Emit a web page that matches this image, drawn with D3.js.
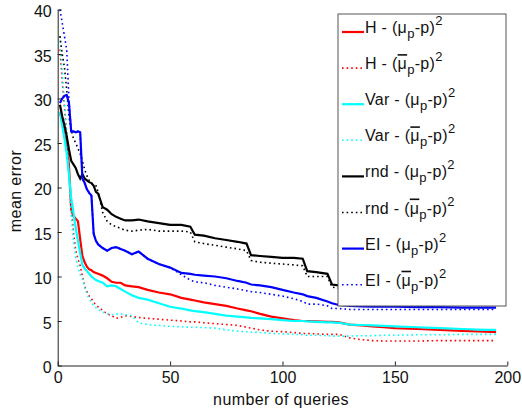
<!DOCTYPE html>
<html>
<head>
<meta charset="utf-8">
<script src="https://cdn.jsdelivr.net/npm/d3@7"></script>
<style>
  body { margin: 0; background: #fff; }
  text { font-family: "Liberation Sans", Arial, sans-serif; }
</style>
</head>
<body>
<svg id="chart" width="522" height="416"></svg>
<script>
// number of queries where the curves were read
var queries = [1,2,3,4,5,6,7,8,9,10,11,12,13,14,15,16,17,18,20,22,24,26,28,30,33,36,40,45,50,55,59,61,65,70,75,80,84,86,90,95,100,105,109,111,115,120,122,125,130,135,140,145,150,160,170,180,190,195];

var hMu   = [28.5,27.3,25.8,24.8,22.5,17.5,16.8,16.5,16.2,14.2,12.3,11.6,11.1,10.8,10.7,10.5,10.4,10.3,10.1,9.8,9.4,9.3,9.3,9.0,8.9,8.8,8.5,8.2,8.0,7.6,7.4,7.3,7.1,6.9,6.7,6.4,6.2,6.1,5.8,5.5,5.3,5.1,5.0,5.0,4.95,4.9,4.9,4.85,4.6,4.5,4.4,4.3,4.2,4.1,4.0,3.9,3.8,3.75];
var hBar  = [35.5,32,29,26,22,18,15,13,12,11.2,10,8.9,8.3,7.8,7.5,7.1,6.8,6.6,6.2,5.8,5.6,5.3,5.4,5.6,5.5,5.4,5.3,5.2,5.1,5.0,4.9,4.9,4.8,4.7,4.6,4.5,4.3,4.2,4.0,3.85,3.8,3.7,3.6,3.6,3.55,3.5,3.5,3.5,3.1,2.9,2.8,2.75,2.75,2.75,2.8,2.8,2.8,2.8];
var varMu = [28.5,27,25.5,23.8,21.5,18.8,17.2,15.5,14.0,12.6,11.3,10.9,10.6,10.3,10.0,9.8,9.6,9.5,9.3,8.9,9.0,8.9,8.6,8.3,7.9,7.6,7.4,7.0,6.6,6.4,6.2,6.1,6.0,5.8,5.6,5.5,5.4,5.35,5.3,5.2,5.1,5.0,5.0,4.95,4.9,4.85,4.85,4.8,4.6,4.55,4.5,4.45,4.4,4.3,4.2,4.1,4.0,4.0];
var varBar= [37,33,29.5,26,21,17,14,12.2,11,10.2,9.7,8.8,8.0,7.5,7.1,6.7,6.5,6.3,6.0,5.8,5.7,5.8,5.8,5.7,5.6,4.8,4.6,4.5,4.4,4.35,4.3,4.3,4.25,4.2,4.0,3.85,3.8,3.75,3.7,3.6,3.55,3.5,3.45,3.4,3.4,3.35,3.3,3.3,3.3,3.35,3.35,3.4,3.4,3.45,3.45,3.5,3.5,3.5];
var rndMu = [29.3,28,27,25.8,24.3,23,22.6,22.2,21.5,21,21.5,21,20.8,20.6,20.5,20.2,19.5,19.3,17.8,17.5,17,16.7,16.5,16.3,16.3,16.4,16.2,16,15.8,15.8,15.6,14.7,14.6,14.3,14.1,13.9,13.7,12.4,12.3,12.2,12.1,12.1,12.0,10.6,10.5,10.3,9.1,9.0,8.9,8.8,8.7,8.6,8.5,8.4,8.3,8.2,8.1,8.0];
var rndBar= [37,35,33.5,31,28,26.5,25.5,25,24.4,23.8,23,22,21.3,20.8,20.5,20.3,20.2,19.5,17.2,16.2,15.8,15.6,15.4,15.2,15.1,15.2,15.3,15.1,15.1,15.1,15.0,13.9,13.7,13.5,13.3,13.1,12.9,11.8,11.6,11.5,11.4,11.3,11.2,10.0,10.0,10.0,8.8,8.7,8.6,8.5,8.4,8.3,8.2,8.1,8.0,7.9,7.8,7.8];
var eiMu  = [29.5,30,30.3,30.4,29.5,26.3,26.3,26.2,26.3,26.2,21,20.5,19.8,19.4,19.1,14.8,14.0,13.6,13.2,12.9,13.2,13.3,13.1,12.9,12.5,12.8,12.0,11.4,11.0,10.4,10.3,10.2,10.1,10.0,9.8,9.5,9.3,9.1,9.0,8.8,8.5,8.2,8.0,7.8,7.6,7.2,7.0,6.8,6.7,6.65,6.6,6.6,6.6,6.55,6.55,6.5,6.5,6.5];
var eiBar = [40,38.5,37,35.5,30,26.3,26.3,26.2,26.3,26.2,21,20.5,19.8,19.4,19.1,14.8,14.0,13.6,13.2,12.9,13.2,13.3,13.1,12.9,12.5,12.8,12.0,11.4,11.0,10.2,9.6,9.4,9.3,9.0,8.8,8.6,8.4,8.3,8.2,8.0,7.8,7.5,7.2,6.9,6.9,6.7,6.4,6.4,6.3,6.3,6.3,6.3,6.3,6.3,6.3,6.3,6.3,6.3];

var xTicks = [0,50,100,150,200];
var yTicks = [0,5,10,15,20,25,30,35,40];

var labels = ["H - (", "H - (", "Var - (", "Var - (", "rnd - (", "rnd - (", "EI - (", "EI - ("];
var barMu = [false, true, false, true, false, true, false, true];
var seriesData = [hMu, hBar, varMu, varBar, rndMu, rndBar, eiMu, eiBar];
var colors = ["#ff0000", "#ff0000", "#00ffff", "#00ffff", "#000000", "#000000", "#0000ff", "#0000ff"];
var dotted = [false, true, false, true, false, true, false, true];

var svg = d3.select("#chart");

var x = d3.scaleLinear().domain([0, 200]).range([57.7, 507.3]);
var y = d3.scaleLinear().domain([0, 40]).range([365.5, 9.5]);

// curves, in legend order
var line = d3.line()
    .x(function(d){ return x(d[0]); })
    .y(function(d){ return y(d[1]); });

seriesData.forEach(function(vals, i){
  var pts = queries.map(function(q, j){ return [q, vals[j]]; });
  svg.append("path")
     .datum(pts)
     .attr("d", line)
     .style("fill", "none")
     .style("stroke", colors[i])
     .style("stroke-width", dotted[i] ? 1.6 : 2.2)
     .style("stroke-dasharray", dotted[i] ? "1.6,3" : null);
});

// axes, ticks pointing inward
var xAxis = svg.append("g")
    .attr("transform", "translate(0," + y(0) + ")")
    .call(d3.axisBottom(x).tickValues(xTicks).tickSizeInner(-4).tickSizeOuter(0).tickPadding(6));
var yAxis = svg.append("g")
    .attr("transform", "translate(" + x(0) + ",0)")
    .call(d3.axisLeft(y).tickValues(yTicks).tickSizeInner(-4).tickSizeOuter(0).tickPadding(6));

[xAxis, yAxis].forEach(function(g){
  g.selectAll("path, line").style("stroke", "#222").style("stroke-width", 1);
  g.selectAll("text").style("font-family", "Liberation Sans, Arial, sans-serif").style("font-size", "16px").style("fill", "#111");
});
yAxis.selectAll("text").attr("dy", "0.45em");

svg.append("text").attr("x", 281).attr("y", 405).attr("text-anchor", "middle")
   .text("number of queries").style("font-size", "16px").style("letter-spacing", "0.4px").style("fill", "#111");
svg.append("text").attr("transform", "translate(21,191) rotate(-90)").attr("text-anchor", "middle")
   .text("mean error").style("font-size", "16px").style("letter-spacing", "0.4px").style("fill", "#111");

// legend
svg.append("rect")
   .attr("x", 338).attr("y", 14).attr("width", 168).attr("height", 292)
   .style("fill", "white").style("stroke", "#555").style("stroke-width", 1);

for (let i = 0; i < 8; i++) {
  var ly = 32 + i * 36.1;
  svg.append("line")
     .attr("x1", 342).attr("x2", 364).attr("y1", ly).attr("y2", ly)
     .style("stroke", colors[i])
     .style("stroke-width", dotted[i] ? 1.6 : 2.2)
     .style("stroke-dasharray", dotted[i] ? "1.6,3" : null);
  var t = svg.append("text").attr("x", 365).attr("y", ly + 1)
     .style("font-size", "16px").style("letter-spacing", "0.3px").style("fill", "#111");
  t.append("tspan").text(labels[i]);
  t.append("tspan").text("\u03bc").style("text-decoration", barMu[i] ? "overline" : null);
  t.append("tspan").attr("dy", 5).style("font-size", "13px").text("p");
  t.append("tspan").attr("dy", -5).text("-p)");
  t.append("tspan").attr("dy", -8).style("font-size", "13px").text("2");
}
</script>
</body>
</html>
